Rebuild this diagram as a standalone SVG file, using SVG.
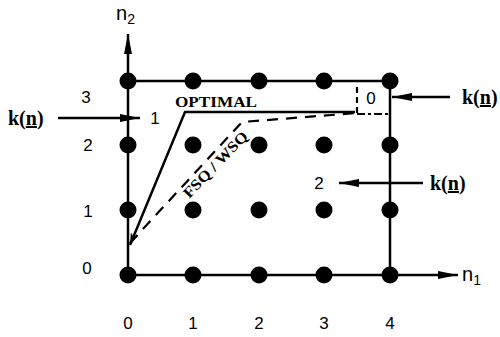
<svg xmlns="http://www.w3.org/2000/svg" width="500" height="337" viewBox="0 0 500 337">
<style>
.ln{stroke:#000;stroke-width:2.5;fill:none}
.dsh{stroke:#000;stroke-width:2.2;fill:none;stroke-dasharray:11 8}
.dt{fill:#000}
.num{font-family:"Liberation Sans",Arial,sans-serif;font-size:17px;fill:#000}
.ax{font-family:"Liberation Sans",Arial,sans-serif;font-size:20px;fill:#000}
.kn{font-family:"Liberation Serif","Times New Roman",serif;font-size:20px;font-weight:bold;fill:#000}
.lab{font-family:"Liberation Serif","Times New Roman",serif;font-size:15px;font-weight:bold;fill:#000}
</style>
<defs>
<marker id="ah" viewBox="0 0 20 8" refX="20" refY="4" markerWidth="20" markerHeight="8" markerUnits="userSpaceOnUse" orient="auto">
<path d="M0,0 L20,4 L0,8 Z" fill="#000"/>
</marker>
<marker id="ahs" viewBox="0 0 12 8" refX="12" refY="4" markerWidth="12" markerHeight="8" markerUnits="userSpaceOnUse" orient="auto">
<path d="M0,0 L12,4 L0,8 L3,4 Z" fill="#000"/>
</marker>
</defs>
<rect width="500" height="337" fill="#fff"/>
<g id="connectors">
<line class="ln" x1="128" y1="275" x2="128" y2="34" marker-end="url(#ah)"/>
<line class="ln" x1="128" y1="275" x2="458" y2="275" marker-end="url(#ah)"/>
<line class="ln" x1="128" y1="81" x2="390" y2="81"/>
<line class="ln" x1="390" y1="81" x2="390" y2="275"/>
<polyline class="ln" points="355,112 185,112 130,245" marker-end="url(#ahs)"/>
<polyline class="dsh" points="130,243 242,122 357,113"/>
<line class="dsh" x1="357" y1="113" x2="357" y2="84" style="stroke-dasharray:6 4"/>
<line class="dsh" x1="357" y1="114" x2="390" y2="114" style="stroke-dasharray:8 3 3 3"/>
<line class="ln" x1="58" y1="118" x2="140" y2="118" stroke-width="2" marker-end="url(#ah)"/>
<line class="ln" x1="450" y1="97" x2="392" y2="97" stroke-width="2" marker-end="url(#ah)"/>
<line class="ln" x1="423" y1="183" x2="339" y2="183" stroke-width="2" marker-end="url(#ah)"/>
</g>
<g id="dots">
<circle class="dt" cx="128" cy="81" r="8.5"/><circle class="dt" cx="193" cy="81" r="8.5"/><circle class="dt" cx="259" cy="81" r="8.5"/><circle class="dt" cx="324" cy="81" r="8.5"/><circle class="dt" cx="390" cy="81" r="8.5"/>
<circle class="dt" cx="128" cy="145" r="8.5"/><circle class="dt" cx="193" cy="145" r="8.5"/><circle class="dt" cx="259" cy="145" r="8.5"/><circle class="dt" cx="324" cy="145" r="8.5"/><circle class="dt" cx="390" cy="145" r="8.5"/>
<circle class="dt" cx="128" cy="210" r="8.5"/><circle class="dt" cx="193" cy="210" r="8.5"/><circle class="dt" cx="259" cy="210" r="8.5"/><circle class="dt" cx="324" cy="210" r="8.5"/><circle class="dt" cx="390" cy="210" r="8.5"/>
<circle class="dt" cx="128" cy="275" r="8.5"/><circle class="dt" cx="193" cy="275" r="8.5"/><circle class="dt" cx="259" cy="275" r="8.5"/><circle class="dt" cx="324" cy="275" r="8.5"/><circle class="dt" cx="390" cy="275" r="8.5"/>
</g>
<g id="labels">
<text class="ax" x="116" y="20">n<tspan font-size="14" dy="4">2</tspan></text>
<text class="ax" x="462" y="281">n<tspan font-size="14" dy="4">1</tspan></text>
<text class="num" x="86" y="103" text-anchor="middle">3</text>
<text class="num" x="88" y="151" text-anchor="middle">2</text>
<text class="num" x="88" y="217" text-anchor="middle">1</text>
<text class="num" x="87" y="274" text-anchor="middle">0</text>
<text class="num" x="128" y="329" text-anchor="middle">0</text>
<text class="num" x="193" y="329" text-anchor="middle">1</text>
<text class="num" x="259" y="329" text-anchor="middle">2</text>
<text class="num" x="324" y="329" text-anchor="middle">3</text>
<text class="num" x="390" y="329" text-anchor="middle">4</text>
<text class="num" x="155" y="124" text-anchor="middle">1</text>
<text class="num" x="371" y="104" text-anchor="middle">0</text>
<text class="num" x="319" y="189" text-anchor="middle">2</text>
<text class="lab" x="175" y="107" textLength="82" lengthAdjust="spacingAndGlyphs">OPTIMAL</text>
<text class="lab" x="0" y="0" text-anchor="middle" textLength="86" lengthAdjust="spacingAndGlyphs" transform="translate(219,168) rotate(-46)">FSQ / WSQ</text>
<text class="kn" x="8" y="125">k(<tspan text-decoration="underline">n</tspan>)</text>
<text class="kn" x="462" y="104">k(<tspan text-decoration="underline">n</tspan>)</text>
<text class="kn" x="430" y="190">k(<tspan text-decoration="underline">n</tspan>)</text>
</g>
</svg>
